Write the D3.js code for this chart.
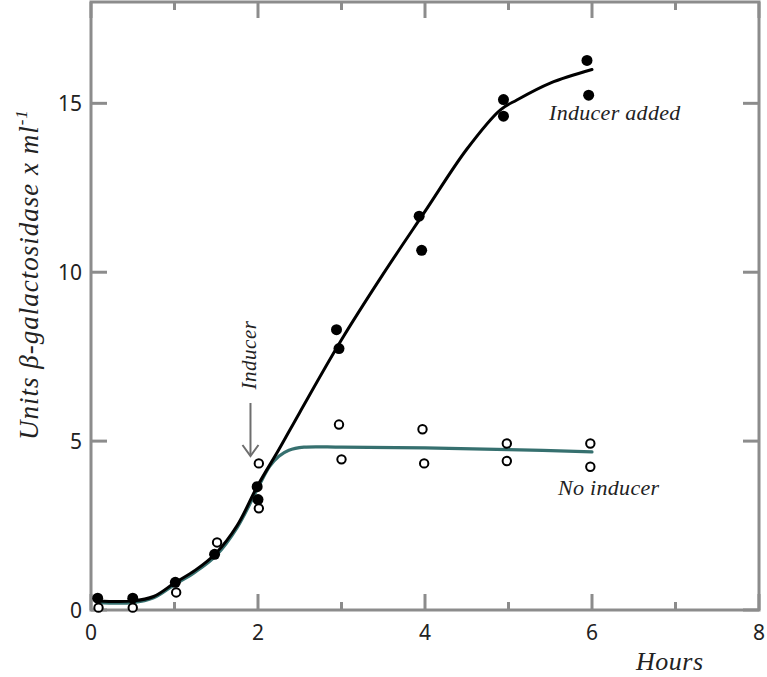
<!DOCTYPE html>
<html>
<head>
<meta charset="utf-8">
<script src="https://cdn.jsdelivr.net/npm/d3@7"></script>
<style>
  body { margin: 0; background: #fff; }
  svg { display: block; }
  .tick-label { font-family: "Noto Sans", sans-serif; font-size: 21px; fill: #222; }
  .note { font-family: "Liberation Serif", serif; font-style: italic; fill: #222; }
</style>
</head>
<body>
<svg id="chart" width="767" height="677"></svg>
<script>
// beta-galactosidase induction

// measured points, inducer added (filled dots)
const addedHours = [0.08, 0.50, 1.01, 1.48, 1.99, 2.00, 2.94, 2.97, 3.93, 3.96, 4.94, 4.94, 5.94, 5.96];
const addedUnits = [0.35, 0.35, 0.82, 1.65, 3.65, 3.27, 8.30, 7.74, 11.66, 10.65, 15.11, 14.62, 16.27, 15.24];

// measured points, no inducer (open dots)
const noneHours = [0.09, 0.50, 1.02, 1.51, 2.01, 2.01, 2.97, 3.00, 3.97, 3.99, 4.98, 4.98, 5.98, 5.98];
const noneUnits = [0.07, 0.07, 0.52, 2.00, 3.01, 4.34, 5.49, 4.46, 5.35, 4.34, 4.93, 4.41, 4.93, 4.24];

// hand-drawn fitted curves as they appear in the figure
const addedCurveHours = [0.08, 0.50, 0.75, 1.00, 1.25, 1.50, 1.75, 2.00, 2.25, 2.50, 3.00, 3.50, 4.00, 4.50, 4.90, 5.10, 5.50, 6.00];
const addedCurveUnits = [0.27, 0.27, 0.40, 0.80, 1.18, 1.69, 2.50, 3.70, 4.75, 5.85, 8.00, 9.95, 11.80, 13.64, 14.80, 15.10, 15.60, 16.00];

const noneCurveHours = [0.08, 0.50, 0.75, 1.00, 1.25, 1.50, 1.75, 2.00, 2.14, 2.25, 2.37, 2.55, 3.00, 4.00, 5.00, 6.00];
const noneCurveUnits = [0.22, 0.22, 0.36, 0.75, 1.13, 1.62, 2.44, 3.62, 4.25, 4.55, 4.73, 4.82, 4.82, 4.80, 4.75, 4.68];

const inducerAt = 1.91;   // hours, arrow position

const xMajor = [0, 2, 4, 6, 8];
const xMinor = [1, 3, 5, 7];
const yMajor = [0, 5, 10, 15];

const svg = d3.select('#chart');

const x = d3.scaleLinear().domain([0, 8]).range([91, 759]);
const y = d3.scaleLinear().domain([0, 18]).range([610, 2]);

const frameColor = '#8c8c8c';

// Frame
svg.append('rect')
    .attr('x', x(0))
    .attr('y', y(18))
    .attr('width', x(8) - x(0))
    .attr('height', y(0) - y(18))
    .attr('fill', 'none')
    .attr('stroke', frameColor)
    .attr('stroke-width', 3);

// Inward ticks on all four sides
const ticks = svg.append('g').attr('stroke', frameColor).attr('stroke-width', 3);
xMajor.concat(xMinor).forEach(v => {
    const len = xMajor.includes(v) ? 16 : 8;
    ticks.append('line').attr('x1', x(v)).attr('x2', x(v)).attr('y1', y(0)).attr('y2', y(0) - len);
    ticks.append('line').attr('x1', x(v)).attr('x2', x(v)).attr('y1', y(18)).attr('y2', y(18) + len);
});
yMajor.forEach(v => {
    ticks.append('line').attr('x1', x(0)).attr('x2', x(0) + 16).attr('y1', y(v)).attr('y2', y(v));
    ticks.append('line').attr('x1', x(8)).attr('x2', x(8) - 16).attr('y1', y(v)).attr('y2', y(v));
});

// Tick labels
svg.append('g').selectAll('text')
    .data(xMajor)
    .enter().append('text')
    .attr('class', 'tick-label')
    .attr('x', d => x(d))
    .attr('y', y(0) + 30)
    .attr('text-anchor', 'middle')
    .text(d => d);

svg.append('g').selectAll('text')
    .data(yMajor)
    .enter().append('text')
    .attr('class', 'tick-label')
    .attr('x', x(0) - 9)
    .attr('y', d => y(d) + 8)
    .attr('text-anchor', 'end')
    .text(d => d);

// Curves
const line = (xs, ys) => d3.line()
    .x((d, i) => x(xs[i]))
    .y((d, i) => y(ys[i]))
    .curve(d3.curveCatmullRom.alpha(0.5))(xs);

svg.append('path')
    .attr('d', line(noneCurveHours, noneCurveUnits))
    .attr('fill', 'none')
    .attr('stroke', '#36706f')
    .attr('stroke-width', 3.2)
    .attr('stroke-linecap', 'round');

svg.append('path')
    .attr('d', line(addedCurveHours, addedCurveUnits))
    .attr('fill', 'none')
    .attr('stroke', '#000')
    .attr('stroke-width', 3)
    .attr('stroke-linecap', 'round');

// Points
svg.append('g').selectAll('circle')
    .data(addedHours)
    .enter().append('circle')
    .attr('cx', (d, i) => x(d))
    .attr('cy', (d, i) => y(addedUnits[i]))
    .attr('r', 5.5)
    .attr('fill', '#000');

svg.append('g').selectAll('circle')
    .data(noneHours)
    .enter().append('circle')
    .attr('cx', (d, i) => x(d))
    .attr('cy', (d, i) => y(noneUnits[i]))
    .attr('r', 4.2)
    .attr('fill', '#fff')
    .attr('stroke', '#000')
    .attr('stroke-width', 2);

// Inducer arrow
const ax = x(inducerAt);
const arrow = svg.append('g').attr('stroke', '#6e6e6e').attr('stroke-width', 2).attr('fill', 'none');
arrow.append('line').attr('x1', ax).attr('x2', ax).attr('y1', 403).attr('y2', 455);
arrow.append('polyline').attr('points', `${ax - 8},445 ${ax},456 ${ax + 8},445`);

svg.append('text')
    .attr('class', 'note')
    .attr('transform', `translate(${ax + 6},355) rotate(-90)`)
    .attr('text-anchor', 'middle')
    .style('font-size', '21px')
    .style('letter-spacing', '0.5px')
    .text('Inducer');

// Series labels
svg.append('text')
    .attr('class', 'note')
    .attr('x', 549)
    .attr('y', 120)
    .style('font-size', '22px')
    .style('letter-spacing', '0.3px')
    .text('Inducer added');

svg.append('text')
    .attr('class', 'note')
    .attr('x', 558)
    .attr('y', 495)
    .style('font-size', '22px')
    .style('letter-spacing', '0.3px')
    .text('No inducer');

// Axis titles
svg.append('text')
    .attr('class', 'note')
    .attr('x', 636)
    .attr('y', 670)
    .style('font-size', '26px')
    .style('letter-spacing', '0.5px')
    .text('Hours');

const yTitle = svg.append('text')
    .attr('class', 'note')
    .attr('transform', 'translate(38,440) rotate(-90)')
    .style('font-size', '27px')
    .style('letter-spacing', '1px');
yTitle.append('tspan').text('Units β-galactosidase x ml');
yTitle.append('tspan').attr('dy', -11).style('font-size', '17px').text('-1');
</script>
</body>
</html>
